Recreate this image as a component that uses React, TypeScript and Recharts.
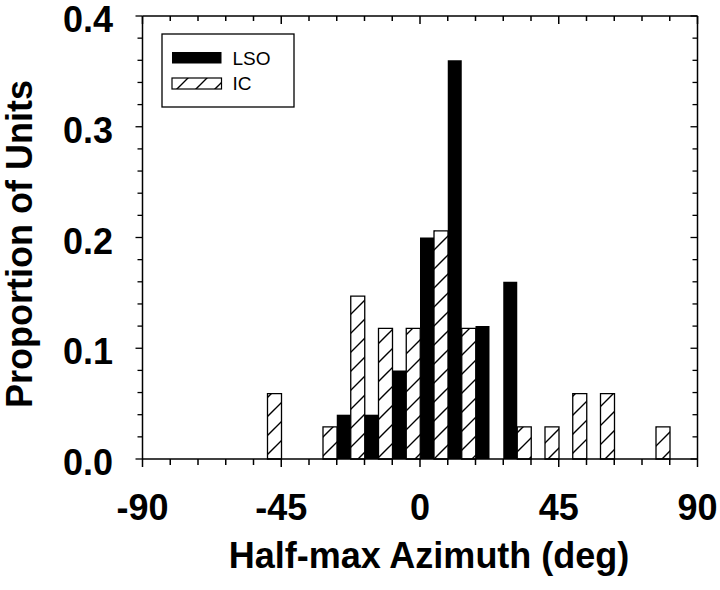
import React from "react";
import { BarChart, Bar, Line, XAxis, YAxis } from "recharts";

// 9-deg bins, centres
const binCenters = [
  -85.5, -76.5, -67.5, -58.5, -49.5, -40.5, -31.5, -22.5, -13.5, -4.5,
  4.5, 13.5, 22.5, 31.5, 40.5, 49.5, 58.5, 67.5, 76.5, 85.5,
];
const lsoValues = [0, 0, 0, 0, 0, 0, 0, 0.04, 0.04, 0.08, 0.2, 0.36, 0.12, 0.16, 0, 0, 0, 0, 0, 0];
const icValues = [0, 0, 0, 0, 0.059, 0, 0.029, 0.147, 0.118, 0.118, 0.206, 0.118, 0, 0.029, 0.029, 0.059, 0.059, 0, 0.029, 0];
const seriesNames = ["LSO", "IC"];

const xTicks = [-90, -81, -72, -63, -54, -45, -36, -27, -18, -9, 0, 9, 18, 27, 36, 45, 54, 63, 72, 81, 90];
const xLabels = [-90, -45, 0, 45, 90];
const yTicks = [0, 0.02, 0.04, 0.06, 0.08, 0.1, 0.12, 0.14, 0.16, 0.18, 0.2, 0.22, 0.24, 0.26, 0.28, 0.3, 0.32, 0.34, 0.36, 0.38, 0.4];
const yLabels = [0, 0.1, 0.2, 0.3, 0.4];

const data = binCenters.map((x, i) => ({ x, lso: lsoValues[i], ic: icValues[i] }));

const FONT = "'Liberation Sans', Arial, Helvetica, sans-serif";

const isMajorY = (v: number) => yLabels.some(l => Math.abs(l - v) < 1e-9);

function BottomTick({ x, y, payload }: any) {
  const major = xLabels.includes(payload.value);
  return (
    <g>
      <line x1={x} y1={y} x2={x} y2={y + (major ? 8 : 6)} stroke="#000" strokeWidth={1.5} />
      {major && (
        <text x={x} y={y + 61} textAnchor="middle" fontSize={36} fontWeight="bold" fontFamily={FONT} fill="#000">
          {payload.value}
        </text>
      )}
    </g>
  );
}

function TopTick({ x, y, payload }: any) {
  const major = xLabels.includes(payload.value);
  return <line x1={x} y1={y} x2={x} y2={y + (major ? 8 : 5)} stroke="#000" strokeWidth={1.5} />;
}

function LeftTick({ x, y, payload }: any) {
  const major = isMajorY(payload.value);
  return (
    <g>
      <line x1={x} y1={y} x2={x - (major ? 7 : 5)} y2={y} stroke="#000" strokeWidth={1.3} />
      {major && (
        <text x={x - 29.5} y={y + 16} textAnchor="end" fontSize={36} fontWeight="bold" fontFamily={FONT} fill="#000">
          {payload.value.toFixed(1)}
        </text>
      )}
    </g>
  );
}

function RightTick({ x, y, payload }: any) {
  const major = isMajorY(payload.value);
  return <line x1={x} y1={y} x2={x - (major ? 7 : 5)} y2={y} stroke="#000" strokeWidth={1.3} />;
}

export default function App() {
  return (
    <div style={{ position: "absolute", left: 0, top: 0, background: "#fff" }}>
      <BarChart
        width={720}
        height={590}
        data={data}
        margin={{ top: 15, right: 21.5, bottom: 71, left: 0 }}
        barCategoryGap={0}
        barGap={0}
      >
        <defs>
          <pattern id="hatch" patternUnits="userSpaceOnUse" width={19} height={19}>
            <rect width={19} height={19} fill="#fff" />
            <path d="M0,19 L19,0 M-2,2 L2,-2 M17,21 L21,17" stroke="#000" strokeWidth={1.4} />
          </pattern>
        </defs>

        <XAxis
          xAxisId="b"
          dataKey="x"
          type="number"
          domain={[-90, 90]}
          ticks={xTicks}
          interval={0}
          height={60}
          tickSize={0}
          tickMargin={0}
          axisLine={{ stroke: "#000", strokeWidth: 1.5 }}
          tick={<BottomTick />}
        />
        <XAxis
          xAxisId="t"
          dataKey="x"
          orientation="top"
          type="number"
          domain={[-90, 90]}
          ticks={xTicks}
          interval={0}
          height={1}
          tickSize={0}
          tickMargin={0}
          axisLine={{ stroke: "#000", strokeWidth: 1.5 }}
          tick={<TopTick />}
        />
        <YAxis
          yAxisId="l"
          type="number"
          domain={[0, 0.4]}
          ticks={yTicks}
          interval={0}
          width={142.5}
          tickSize={0}
          tickMargin={0}
          axisLine={{ stroke: "#000", strokeWidth: 1.5 }}
          tick={<LeftTick />}
        />
        <YAxis
          yAxisId="r"
          orientation="right"
          type="number"
          domain={[0, 0.4]}
          ticks={yTicks}
          interval={0}
          width={1}
          tickSize={0}
          tickMargin={0}
          axisLine={{ stroke: "#000", strokeWidth: 1.5 }}
          tick={<RightTick />}
        />

        <Bar xAxisId="b" yAxisId="l" dataKey="lso" name={seriesNames[0]} fill="#000" isAnimationActive={false} />
        <Bar
          xAxisId="b"
          yAxisId="l"
          dataKey="ic"
          name={seriesNames[1]}
          fill="url(#hatch)"
          stroke="#000"
          strokeWidth={1.3}
          isAnimationActive={false}
        />
        {/* invisible series so the mirrored top/right frame axes get a scale */}
        <Line
          xAxisId="t"
          yAxisId="r"
          dataKey="lso"
          stroke="none"
          dot={false}
          activeDot={false}
          legendType="none"
          isAnimationActive={false}
        />

        {/* legend box */}
        <g>
          <rect x={162} y={34} width={132} height={73} fill="#fff" stroke="#000" strokeWidth={1.3} />
          <rect x={172} y={52} width={49.5} height={11.5} fill="#000" />
          <rect x={172} y={78} width={49.5} height={11} fill="url(#hatch)" stroke="#000" strokeWidth={1.2} />
          <text x={232.5} y={64.5} fontSize={19} fontFamily={FONT} fill="#000">{seriesNames[0]}</text>
          <text x={232.5} y={90} fontSize={19} fontFamily={FONT} fill="#000">{seriesNames[1]}</text>
        </g>

        {/* axis titles */}
        <text x={429} y={568} textAnchor="middle" fontSize={36} fontWeight="bold" fontFamily={FONT} fill="#000">
          Half-max Azimuth (deg)
        </text>
        <text
          transform="rotate(-90)"
          x={-244}
          y={32}
          textAnchor="middle"
          fontSize={36}
          fontWeight="bold"
          fontFamily={FONT}
          fill="#000"
        >
          Proportion of Units
        </text>
      </BarChart>
    </div>
  );
}
